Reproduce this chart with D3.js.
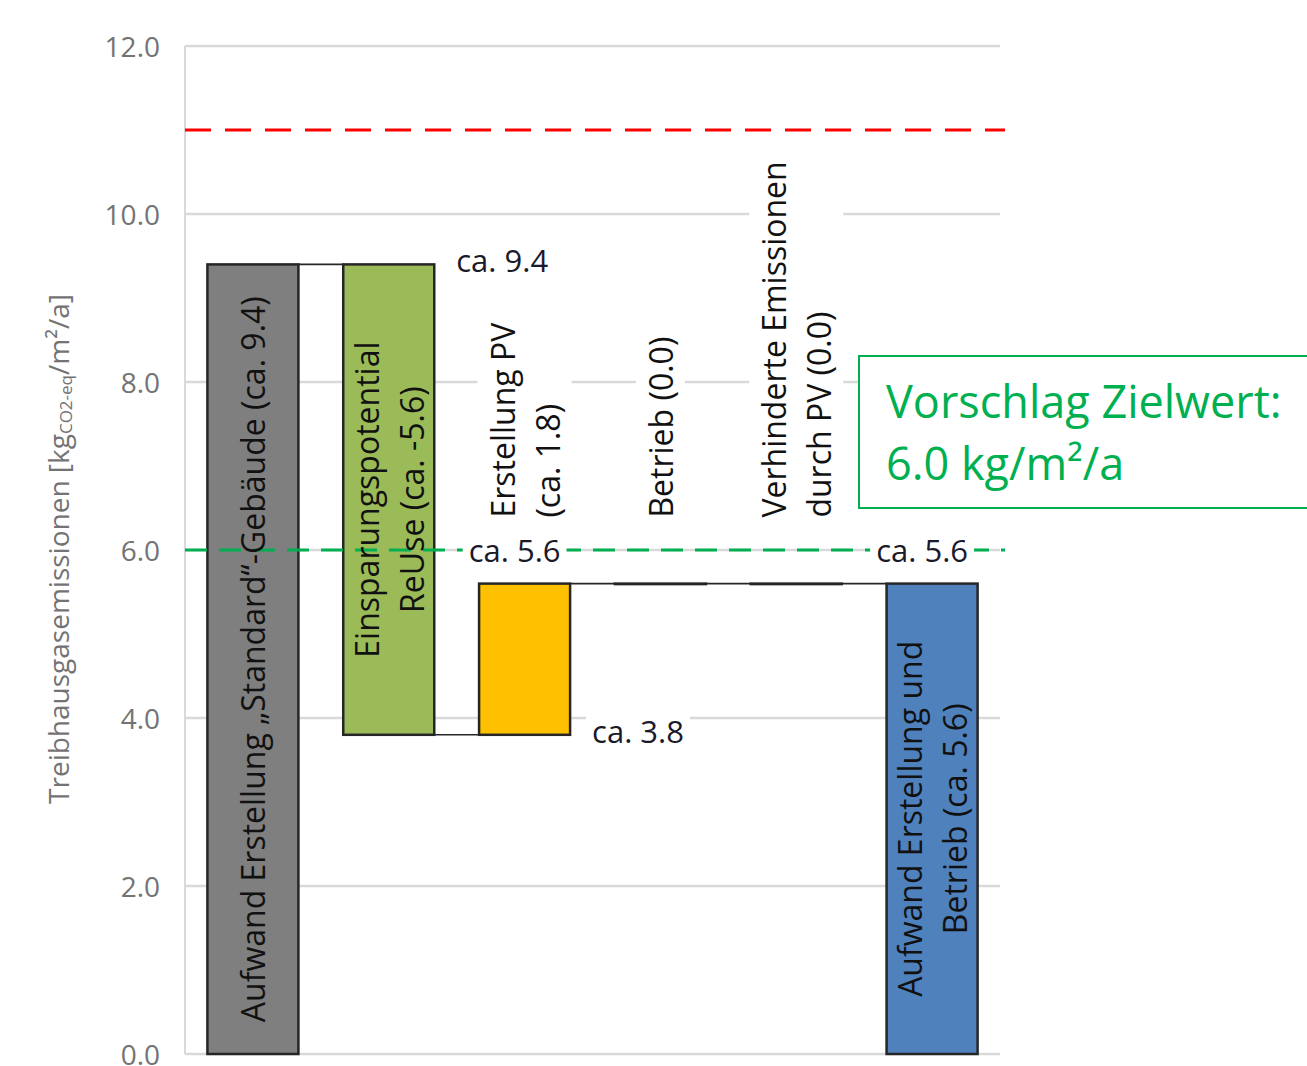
<!DOCTYPE html>
<html>
<head>
<meta charset="utf-8">
<script src="https://cdn.jsdelivr.net/npm/d3@7"></script>
<style>
  body { margin: 0; background: #fff; }
  svg { display: block; }
  text { font-family: "Open Sans", sans-serif; }
</style>
</head>
<body>
<svg id="chart"></svg>
<script>
// -------------------- DATA -------------------- //
const categories = ["standard", "reuse", "pv", "betrieb", "verhindert", "gesamt"];
const barLabels = [
    ["Aufwand Erstellung „Standard“-Gebäude (ca. 9.4)"],
    ["Einsparungspotential", "ReUse (ca. -5.6)"],
    ["Erstellung PV", "(ca. 1.8)"],
    ["Betrieb (0.0)"],
    ["Verhinderte Emissionen", "durch PV (0.0)"],
    ["Aufwand Erstellung und", "Betrieb (ca. 5.6)"]
];
const barBase = [0, 3.8, 3.8, 5.6, 5.6, 0];
const barTop = [9.4, 9.4, 5.6, 5.6, 5.6, 5.6];
const barColors = ["#7f7f7f", "#9bbb59", "#ffc000", "#ffffff", "#ffffff", "#4f81bd"];
const labelInside = [true, true, false, false, false, true];
const yTicks = [0, 2, 4, 6, 8, 10, 12];
const limitValue = 11.0;
const targetValue = 6.0;
// which: "side" = right of the bar at the value, "target" = centred on bar at target line
const valueNotes = [
    { text: "ca. 9.4", cat: 1, value: 9.4, which: "side" },
    { text: "ca. 5.6", cat: 2, value: 5.6, which: "target" },
    { text: "ca. 3.8", cat: 2, value: 3.8, which: "side" },
    { text: "ca. 5.6", cat: 5, value: 5.6, which: "target" }
];
const boxLines = ["Vorschlag Zielwert:", "6.0 kg/m²/a"];

// -------------------- SETUP -------------------- //
const W = 1307, H = 1066;
const svg = d3.select("#chart").attr("width", W).attr("height", H);

const y = d3.scaleLinear().domain([0, 12]).range([1054, 46]);
const x = d3.scaleBand().domain(categories).range([185, 1000])
    .paddingInner(0.33).paddingOuter(0.165);

const GRID = "#d9d9d9";
const GREEN = "#00b050";

// gridlines
svg.append("g").selectAll("line").data(yTicks).join("line")
    .attr("x1", 185).attr("x2", 1000)
    .attr("y1", d => y(d)).attr("y2", d => y(d))
    .attr("stroke", GRID).attr("stroke-width", 2.5);

// vertical axis line
svg.append("line")
    .attr("x1", 185).attr("x2", 185).attr("y1", y(12)).attr("y2", y(0))
    .attr("stroke", GRID).attr("stroke-width", 2);

// tick labels
svg.append("g").selectAll("text").data(yTicks).join("text")
    .attr("x", 160).attr("y", d => y(d))
    .attr("text-anchor", "end").attr("dominant-baseline", "central")
    .attr("font-size", 28).attr("fill", "#737373")
    .text(d => d3.format(".1f")(d));

// y axis title
const yt = svg.append("text")
    .attr("transform", "translate(58,549) rotate(-90)")
    .attr("text-anchor", "middle").attr("dominant-baseline", "central")
    .attr("font-size", 28).attr("fill", "#737373");
yt.append("tspan").text("Treibhausgasemissionen [kg");
yt.append("tspan").attr("font-size", 17).attr("dy", 7).text("CO2-eq");
yt.append("tspan").attr("dy", -7).text("/m²/a]");

// -------------------- BARS -------------------- //
svg.append("g").selectAll("rect").data(categories).join("rect")
    .attr("x", d => x(d))
    .attr("width", x.bandwidth())
    .attr("y", (d, i) => y(barTop[i]))
    .attr("height", (d, i) => Math.max(0.5, y(barBase[i]) - y(barTop[i])))
    .attr("fill", (d, i) => barColors[i])
    .attr("stroke", "#262626").attr("stroke-width", 2.5);

// connectors between consecutive bars (end of one = start of next)
const connectors = d3.range(categories.length - 1).map(i => {
    let level = (i === 0) ? barTop[0] : (barBase[i + 1] === barBase[i] ? barBase[i] : barTop[i]);
    if (i >= 2) level = barTop[i];
    return { from: categories[i], to: categories[i + 1], level: level };
});
svg.append("g").selectAll("line").data(connectors).join("line")
    .attr("x1", d => x(d.from) + x.bandwidth())
    .attr("x2", d => x(d.to))
    .attr("y1", d => y(d.level)).attr("y2", d => y(d.level))
    .attr("stroke", "#262626").attr("stroke-width", 1.6);

// -------------------- REFERENCE LINES -------------------- //
svg.append("line")
    .attr("x1", 185).attr("x2", 1005)
    .attr("y1", y(limitValue)).attr("y2", y(limitValue))
    .attr("stroke", "#ff0000").attr("stroke-width", 3)
    .attr("stroke-dasharray", "26 14");

svg.append("line")
    .attr("x1", 185).attr("x2", 1005)
    .attr("y1", y(targetValue)).attr("y2", y(targetValue))
    .attr("stroke", GREEN).attr("stroke-width", 3)
    .attr("stroke-dasharray", "22 12");

// -------------------- BAR LABELS -------------------- //
const LINE = 45;
categories.forEach((c, i) => {
    const lines = barLabels[i];
    const cx = x(c) + x.bandwidth() / 2;
    const inside = labelInside[i];
    const cy = inside ? (y(barBase[i]) + y(barTop[i])) / 2 : y(barTop[i]) - 66;
    const g = svg.append("g").attr("transform", `translate(${cx},${cy}) rotate(-90)`);
    const n = lines.length;
    g.selectAll("text").data(lines).join("text")
        .attr("x", 0)
        .attr("y", (d, k) => (k - (n - 1) / 2) * LINE)
        .attr("text-anchor", inside ? "middle" : "start")
        .attr("dominant-baseline", "central")
        .attr("font-size", 32).attr("fill", "#111")
        .text(d => d);
    if (!inside) {
        const bb = g.node().getBBox();
        g.insert("rect", "text")
            .attr("x", bb.x - 4).attr("y", bb.y - 3)
            .attr("width", bb.width + 8).attr("height", bb.height + 6)
            .attr("fill", "#fff");
    }
});

// -------------------- VALUE NOTES -------------------- //
valueNotes.forEach(n => {
    const g = svg.append("g");
    const t = g.append("text")
        .attr("dominant-baseline", "central")
        .attr("font-size", 31).attr("fill", "#1a1a2a")
        .text(n.text);
    if (n.which === "side") {
        t.attr("x", x(categories[n.cat]) + x.bandwidth() + 22)
            .attr("y", y(n.value) - 4)
            .attr("text-anchor", "start");
    } else {
        t.attr("x", x(categories[n.cat]) + x.bandwidth() / 2 - 10)
            .attr("y", y(targetValue))
            .attr("text-anchor", "middle");
    }
    const bb = t.node().getBBox();
    g.insert("rect", "text")
        .attr("x", bb.x - 6).attr("y", bb.y + 4)
        .attr("width", bb.width + 12).attr("height", bb.height - 8)
        .attr("fill", "#fff");
});

// -------------------- TARGET BOX -------------------- //
const box = svg.append("g");
box.append("rect")
    .attr("x", 859).attr("y", 356).attr("width", 470).attr("height", 152)
    .attr("fill", "#fff").attr("stroke", GREEN).attr("stroke-width", 2);
box.selectAll("text").data(boxLines).join("text")
    .attr("x", 886)
    .attr("y", (d, k) => 418 + k * 62)
    .attr("font-size", 45).attr("fill", GREEN)
    .text(d => d);
</script>
</body>
</html>
